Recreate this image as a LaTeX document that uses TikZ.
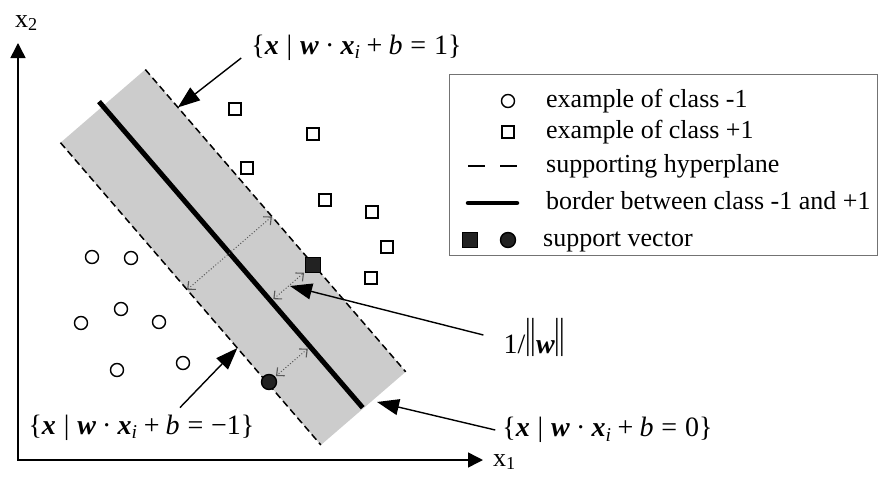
\documentclass[tikz,border=0pt]{standalone}
\usepackage{fontspec}
\usepackage{graphicx}
\setmainfont{Liberation Serif}
\usetikzlibrary{arrows.meta,calc}
\definecolor{bandgray}{HTML}{CCCCCC}
\definecolor{svfill}{HTML}{222222}
\newcommand{\bv}[1]{\textbf{\textit{#1}}}
\newcommand{\hsrel}{\hspace{0.28em}}
\newcommand{\hsbin}{\hspace{0.22em}}
\newcommand{\hplane}[1]{\{\bv{x}\hsrel|\hsrel\bv{w}\hsbin·\hsbin\bv{x}\textsubscript{\textit{i}}\hsbin+\hsbin\textit{b}\hsrel=\hsrel#1\}}
\newcommand{\nrmbar}{\scalebox{1}[1.5]{\raisebox{0.13em}{|\kern-0.02em|}}}
\tikzset{
  dot/.style={draw, line width=1.4pt, inner sep=0pt},
  negex/.style={dot, circle, minimum size=13pt},
  posex/.style={dot, rectangle, minimum size=12pt},
  svsq/.style={dot, rectangle, fill=svfill, minimum size=15pt},
  svci/.style={dot, circle, fill=svfill, minimum size=15pt},
  hyper/.style={line width=1.5pt, dash pattern=on 7pt off 4pt},
  border/.style={line width=5pt},
  gap/.style={{Straight Barb[length=6pt,width=11pt,line width=1.1pt]}-{Straight Barb[length=6pt,width=11pt,line width=1.1pt]}, black!65, dotted, line width=1pt},
  pin/.style={-{Triangle[length=22pt,width=16pt]}, line width=1.4pt},
  axis/.style={{Triangle[length=15pt,width=15pt]}-{Triangle[length=15pt,width=15pt]}, line width=1.5pt},
  eq/.style={font=\fontsize{28}{32}\selectfont, inner sep=2pt},
  leg/.style={font=\fontsize{26}{30}\selectfont, anchor=base west, inner sep=0pt}}

\begin{document}
\begin{tikzpicture}[x=1pt,y=-1pt]
\useasboundingbox (0,0) rectangle (879,477);
% margin band
\coordinate (bA) at (145.3,69.5);
\coordinate (bB) at (60.5,142.7);
\coordinate (bC) at (320.9,445.0);
\coordinate (bD) at (405.7,371.8);
\fill[bandgray] (bA) -- (bB) -- (bC) -- (bD) -- cycle;
\draw[hyper] (bA) -- (bD);
\draw[hyper] (bB) -- (bC);
\coordinate (sTop) at (99,101.6);
\coordinate (sBot) at (362.7,407.7);
\draw[border] (sTop) -- (sBot);

% axes
\coordinate (o) at (18,460);
\coordinate (xend) at (483,460);
\coordinate (yend) at (18,43);
\draw[axis] (yend) |- (xend);
\node[font=\fontsize{26}{30}\selectfont, anchor=base west, inner sep=0pt] (x1lbl) at (493,466) {x\textsubscript{1}};
\node[font=\fontsize{26}{30}\selectfont, anchor=base west, inner sep=0pt] (x2lbl) at (15,27) {x\textsubscript{2}};

% examples
\foreach \p [count=\i] in {(235,109),(313,134),(247,168),(325,200),(372,212),(387,247),(371,278)}
  \node[posex] (sq\i) at \p {};
\foreach \p [count=\i] in {(92,257),(131,258),(121,309),(81,323),(159,322),(117,370),(183,363)}
  \node[negex] (ci\i) at \p {};
\node[svsq] (svp) at (313,265) {};
\node[svci] (svn) at (269,382) {};

% margin widths
\coordinate (gL) at (187.1,289.7);
\coordinate (gR) at (271.9,216.5);
\coordinate (gp) at (273.3,299.2);
\coordinate (gn) at (307.8,348.7);
\draw[gap] (gL) -- (gR);
\draw[gap, shorten >=1pt] (gp) -- (svp);
\draw[gap, shorten >=1pt] (gn) -- (svn);

% labels
\node[eq] (hpos) at (356.5,47.5) {\hplane{1}};
\node[eq] (hneg) at (141.5,427.5) {\hplane{−1}};
\node[eq] (hzero) at (607.5,430) {\hplane{0}};
\node[eq] (marg) at (534.5,337.5) {1/\nrmbar\bv{w}\nrmbar};
\coordinate (t1) at (177.9,107.4);
\coordinate (t2) at (237.4,348);
\coordinate (t3) at (290,286);
\coordinate (t4) at (377,402);
\draw[pin] ([xshift=-8pt,yshift=-10.5pt]hpos.west) -- (t1);
\draw[pin] ([xshift=38.5pt,yshift=5pt]hneg.north) -- (t2);
\draw[pin] ([xshift=-18pt,yshift=2.5pt]marg.west) -- (t3);
\draw[pin] ([xshift=-5pt]hzero.west) -- (t4);

% legend
\node[draw=black!55, line width=1pt, minimum width=428pt, minimum height=181pt, anchor=north west, inner sep=0pt] (legend) at (449,74) {};
\node[negex] (lg1) at (508,101) {};
\node[leg] (lt1) at (546,107) {example of class -1};
\node[posex] (lg2) at (508,132) {};
\node[leg] (lt2) at (546,138) {example of class +1};
\coordinate (ld1) at (468,166);
\coordinate (ld2) at (517,166);
\draw[line width=1.4pt, dash pattern=on 17pt off 15pt] (ld1) -- (ld2);
\node[leg] (lt3) at (546,172) {supporting hyperplane};
\coordinate (lb1) at (468,203);
\coordinate (lb2) at (517,203);
\draw[line width=4.5pt, line cap=round] (lb1) -- (lb2);
\node[leg] (lt4) at (546,209) {border between class -1 and +1};
\node[svsq] (lg5) at (470,240) {};
\node[svci] (lg6) at (508,240) {};
\node[leg] (lt5) at (543,246) {support vector};
\end{tikzpicture}
\end{document}
